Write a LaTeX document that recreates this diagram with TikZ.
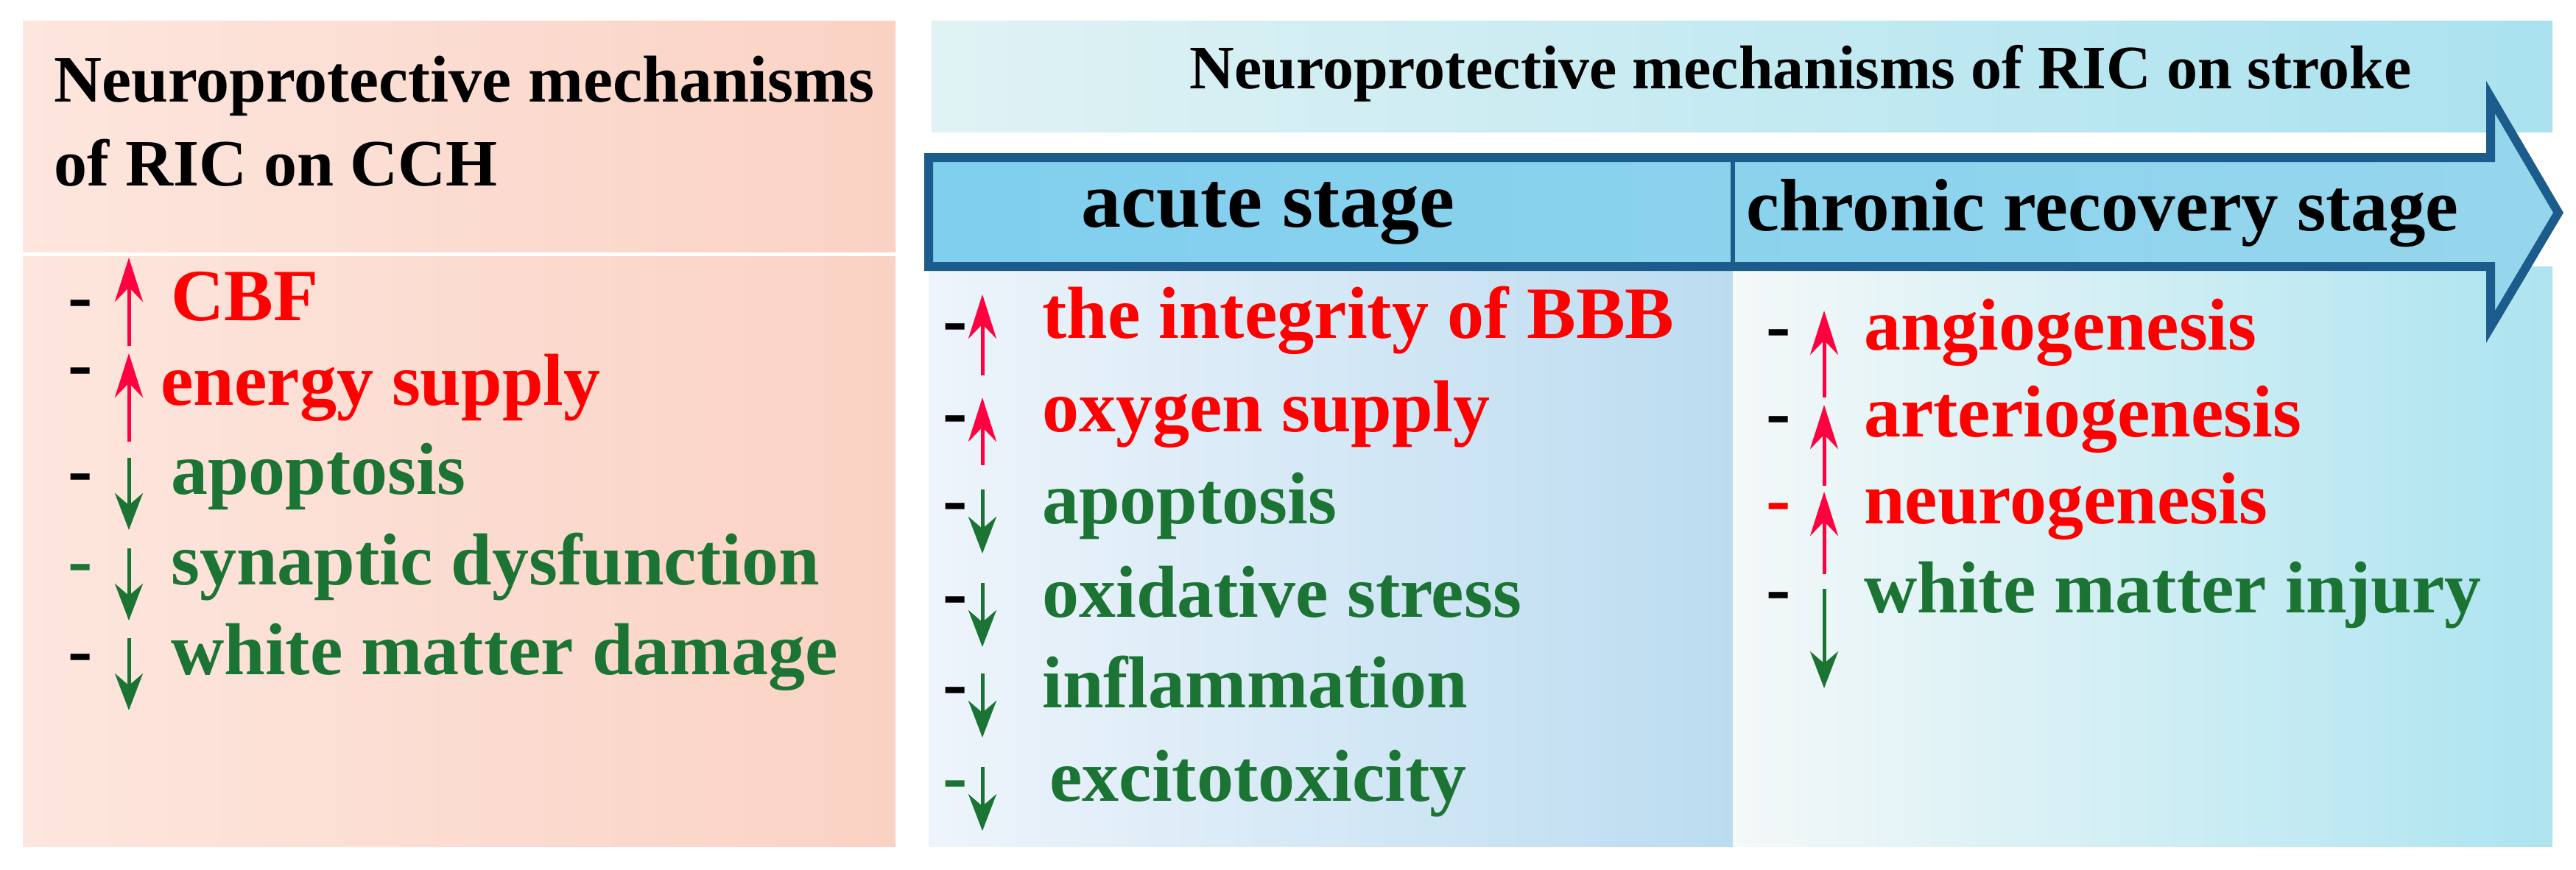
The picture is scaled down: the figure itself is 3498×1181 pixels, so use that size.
\documentclass[tikz,border=0pt]{standalone}
\usepackage{fontspec}
\setmainfont{Liberation Serif}
\usetikzlibrary{arrows.meta}
\definecolor{tred}{HTML}{FF0000}
\definecolor{ared}{HTML}{FF0040}
\definecolor{tgreen}{HTML}{1C7434}
\definecolor{bord}{HTML}{1B5C8C}
\tikzset{
 hd/.style={font=\fontsize{90}{100}\selectfont\bfseries, text=black, inner sep=0, align=left},
 it/.style={font=\fontsize{100}{100}\selectfont\bfseries, inner sep=0, anchor=mid west},
 dsh/.style={font=\fontsize{100}{100}\selectfont\bfseries, inner sep=0, anchor=mid west},
 up/.style={draw=ared, line width=5, -{Stealth[length=60,width=38]}},
 dn/.style={draw=tgreen, line width=5, -{Stealth[length=50,width=38]}},
}
\begin{document}
\begin{tikzpicture}[x=1pt,y=-1pt]
\useasboundingbox (0,0) rectangle (3498,1181);
% left panel
\shade[left color={rgb,255:red,253;green,230;blue,222}, right color={rgb,255:red,250;green,210;blue,196}] (31,28) rectangle (1216,342);
\shade[left color={rgb,255:red,253;green,230;blue,222}, right color={rgb,255:red,250;green,210;blue,196}] (31,348) rectangle (1216,1150);
% top banner
\shade[left color={rgb,255:red,224;green,242;blue,244}, right color={rgb,255:red,170;green,226;blue,239}] (1265,28) rectangle (3466,179);
% bodies
\shade[left color={rgb,255:red,238;green,244;blue,251}, right color={rgb,255:red,187;green,220;blue,240}] (1261,362) rectangle (2353,1150);
\shade[left color={rgb,255:red,244;green,248;blue,248}, right color={rgb,255:red,172;green,228;blue,240}] (2353,362) rectangle (3466,1150);
% arrow
\shade[left color={rgb,255:red,128;green,207;blue,238}, right color={rgb,255:red,150;green,214;blue,236}] (1261,214) -- (3382,214) -- (3382,132) -- (3474,289) -- (3382,444) -- (3382,362) -- (1261,362) -- cycle;
\draw[bord, line width=12, line join=miter] (1261,214) -- (3382,214) -- (3382,132) -- (3474,289) -- (3382,444) -- (3382,362) -- (1261,362) -- cycle;
\draw[bord, line width=6] (2353,214) -- (2353,362);
% headers
\node[hd, anchor=west] (h1) at (73,165) {Neuroprotective mechanisms\\[14pt]of RIC on CCH};
\node[hd, font=\fontsize{84}{100}\selectfont\bfseries] (h2) at (2445,100) {Neuroprotective mechanisms of RIC on stroke};
\node[hd, font=\fontsize{108}{100}\selectfont\bfseries] (s1) at (1722,290) {acute stage};
\node[hd, font=\fontsize{101}{100}\selectfont\bfseries] (s2) at (2855,290) {chronic recovery stage};
% left items
\node[dsh] (d1) at (92,433) {-}; \draw[up] (175,470) -- (175,350); \node[it,text=tred] (i1) at (232,433) {CBF};
\node[dsh] (d2) at (92,525) {-}; \draw[up] (175,600) -- (175,480); \node[it,text=tred] (i2) at (218,548) {energy supply};
\node[dsh] (d3) at (92,669) {-}; \draw[dn] (175,622) -- (175,720); \node[it,text=tgreen] (i3) at (232,669) {apoptosis};
\node[dsh,text=tgreen] (d4) at (92,792) {-}; \draw[dn] (175,745) -- (175,843); \node[it,text=tgreen] (i4) at (232,792) {synaptic dysfunction};
\node[dsh] (d5) at (92,914) {-}; \draw[dn] (175,867) -- (175,965); \node[it,text=tgreen] (i5) at (232,914) {white matter damage};
% acute items
\node[dsh] (a1d) at (1280,465) {-}; \draw[up] (1334,510) -- (1334,400); \node[it,text=tred] (a1) at (1415,457) {the integrity of BBB};
\node[dsh] (a2d) at (1280,590) {-}; \draw[up] (1334,632) -- (1334,540); \node[it,text=tred] (a2) at (1415,584) {oxygen supply};
\node[dsh] (a3d) at (1280,709) {-}; \draw[dn] (1334,665) -- (1334,752); \node[it,text=tgreen] (a3) at (1415,709) {apoptosis};
\node[dsh] (a4d) at (1280,836) {-}; \draw[dn] (1334,792) -- (1334,879); \node[it,text=tgreen] (a4) at (1415,836) {oxidative stress};
\node[dsh] (a5d) at (1280,959) {-}; \draw[dn] (1334,915) -- (1334,1002); \node[it,text=tgreen] (a5) at (1415,959) {inflammation};
\node[dsh,text=tgreen] (a6d) at (1280,1086) {-}; \draw[dn] (1334,1042) -- (1334,1129); \node[it,text=tgreen] (a6) at (1425,1086) {excitotoxicity};
% chronic items
\node[dsh] (c1d) at (2398,473) {-}; \draw[up] (2477,540) -- (2477,422); \node[it,text=tred] (c1) at (2531,473) {angiogenesis};
\node[dsh] (c2d) at (2398,591) {-}; \draw[up] (2477,660) -- (2477,550); \node[it,text=tred] (c2) at (2531,591) {arteriogenesis};
\node[dsh,text=tred] (c3d) at (2398,709) {-}; \draw[up] (2477,780) -- (2477,668); \node[it,text=tred] (c3) at (2531,709) {neurogenesis};
\node[dsh] (c4d) at (2398,830) {-}; \draw[dn] (2477,800) -- (2477,935); \node[it,text=tgreen] (c4) at (2531,830) {white matter injury};
\end{tikzpicture}
\end{document}
